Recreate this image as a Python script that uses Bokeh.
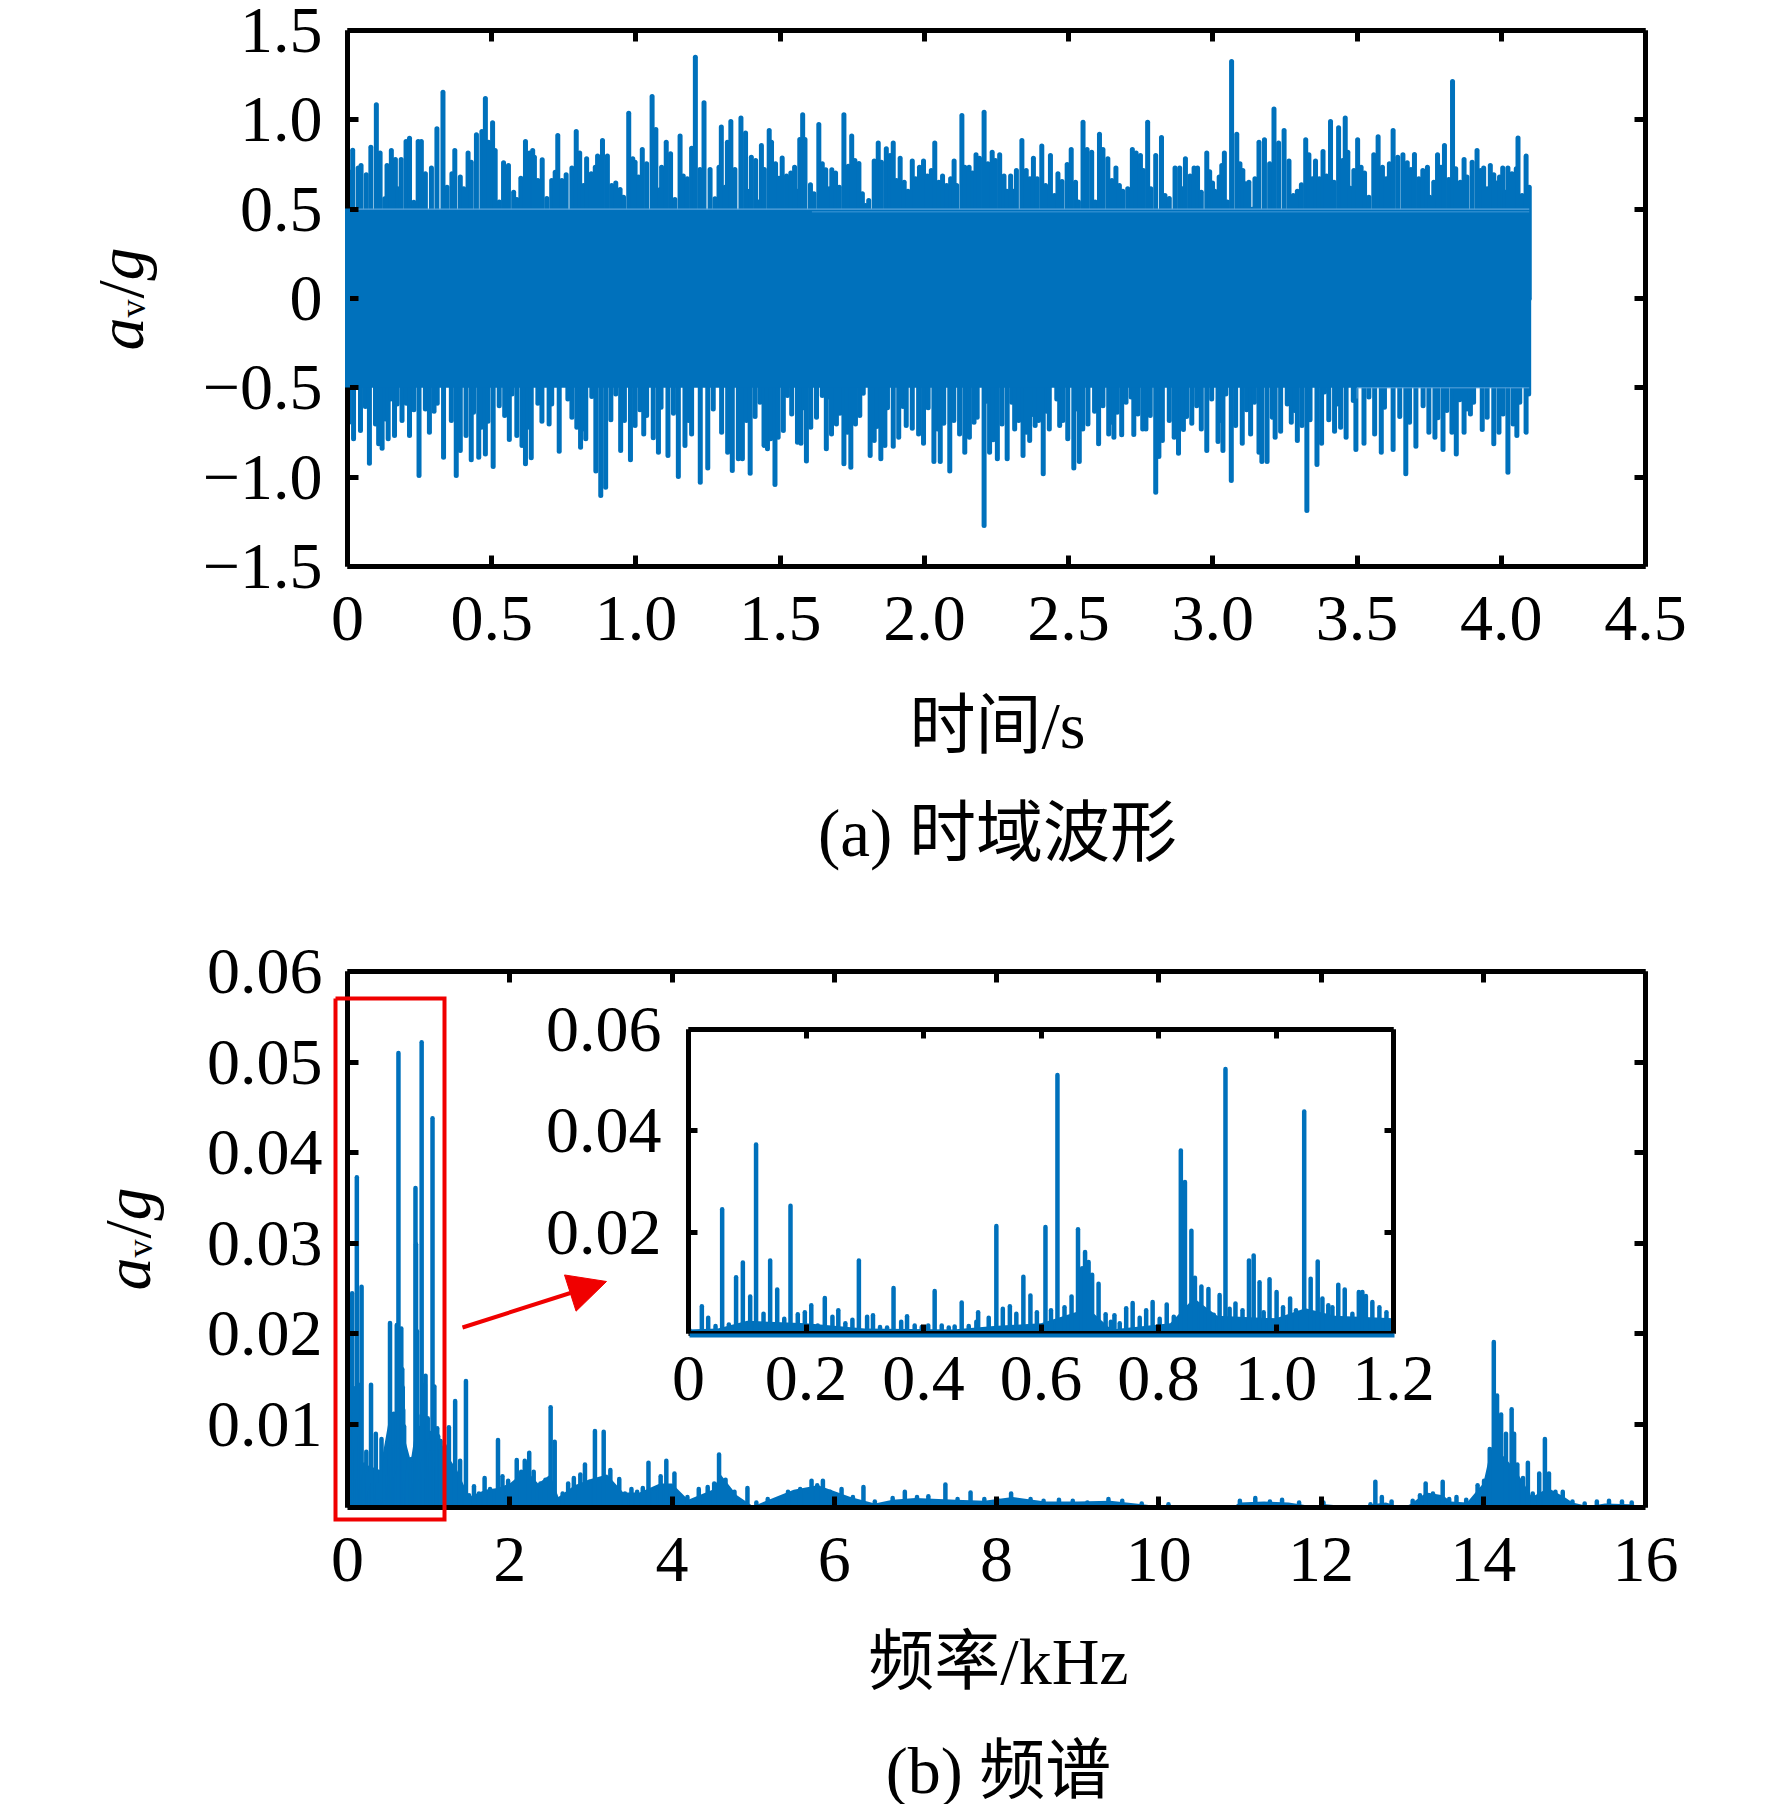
import numpy as np
from bokeh.embed import file_html
from bokeh.resources import INLINE
from bokeh.plotting import figure
from bokeh.layouts import column, row
from bokeh.models import (Range1d, LinearAxis, FixedTicker, Label, Arrow, NormalHead, CustomLabelingPolicy)

BLUE = "#0071BC"
RED = "#F00000"
FONT = "Liberation Serif"
CJK = "Liberation Serif, Noto Sans CJK SC"

# ---- (a) time waveform: peaks above and below the solid band
t_up = [.005,.018,.037,.047,.065,.081,.100,.113,.129,.137,.152,.166,.174,.186,.203,.215,.230,.245,.256,.270,.291,.310,.331,.345,.362,.372,.391,.403,.418,.429,.447,.466,.478,.489,.503,.512,.526,.541,.558,.576,.587,.601,.617,.631,.642,.648,.660,.675,.691,.708,.720,.729,.743,.758,.778,.793,.805,.818,.829,.845,.859,.867,.884,.901,.916,.930,.945,.957,.975,.989,.997,1.009,1.022,1.037,1.056,1.069,1.084,1.089,1.105,1.120,1.135,1.153,1.164,1.178,1.193,1.206,1.222,1.236,1.257,1.274,1.288,1.296,1.309,1.317,1.329,1.343,1.364,
1.38,1.387,1.40,1.415,1.424,1.435,1.445,1.462,1.47,1.484,1.496,1.507,1.522,1.537,1.55,1.559,1.568,1.578,1.586,1.605,1.617,1.634,1.646,1.658,1.67,1.679,1.692,1.705,1.721,1.736,1.748,1.759,1.773,1.785,1.796,1.807,1.826,1.84,1.851,1.868,1.881,1.892,1.903,1.916,1.93,1.943,1.958,1.969,1.983,1.997,2.01,2.024,2.036,2.05,2.063,2.077,2.091,2.103,2.112,2.13,2.14,2.155,2.167,2.179,2.191,2.207,2.22,2.235,2.246,2.261,2.276,2.286,2.299,2.308,2.319,2.338,2.353,2.366,2.378,2.391,2.407,2.42,2.437,2.451,2.463,2.477,2.495,2.509,2.524,2.534,2.55,2.564,2.58,2.592,2.607,2.619,2.636,2.65,2.664,2.676,2.688,2.705,2.721,2.734,2.749,2.759,
2.774,2.785,2.802,2.822,2.834,2.849,2.869,2.885,2.895,2.905,2.921,2.935,2.947,2.96,2.979,2.989,2.999,3.007,3.022,3.031,3.04,3.05,3.065,3.083,3.094,3.104,3.114,3.125,3.137,3.146,3.16,3.179,3.197,3.212,3.228,3.247,3.264,3.279,3.293,3.307,3.322,3.333,3.345,3.356,3.369,3.382,3.394,3.408,3.42,3.436,3.45,3.459,3.468,3.477,3.489,3.502,3.514,3.526,3.541,3.558,3.573,3.588,3.601,3.612,3.625,3.641,3.659,3.674,3.687,3.699,3.714,3.728,3.744,3.752,3.766,3.779,3.791,3.803,3.818,3.831,3.842,3.858,3.871,3.881,3.899,3.916,3.928,3.939,3.951,3.962,3.974,3.985,3.994,4.005,4.014,4.023,4.037,4.052,4.058,4.072,4.086,4.097]
a_up = [.71,.83,.73,.744,.692,.847,1.084,.815,.558,.744,.828,.778,.614,.778,.879,.897,.539,.879,.879,.698,.73,.95,1.155,.623,.698,.828,.68,.614,.815,.763,.916,.935,1.12,.875,.983,.828,.54,.76,.744,.595,.554,.673,.879,.815,.828,.79,.66,.776,.56,.66,.707,.912,.66,.692,.73,.935,.815,.632,.782,.698,.735,.797,.884,.797,.632,.647,.61,.567,1.037,.782,.763,.68,.834,.754,1.13,.946,.61,.735,.875,.81,.554,.91,.685,.67,.841,1.35,.722,1.095,.722,.558,.735,.96,.623,.875,.99,.722,1.01,
.927,.60,.79,.772,.54,.856,.722,.94,.875,.754,.673,.787,.685,.703,.735,.60,.89,1.028,.89,.636,.586,.974,.754,.72,.614,.72,.703,.623,1.028,.74,.91,.772,.756,.586,.52,.548,.769,.871,.763,.838,.80,.871,.66,.785,.651,.60,.769,.67,.735,.769,.685,.716,.871,.651,.685,.632,.67,.769,.632,1.024,.735,.735,.703,.804,.785,1.043,.754,.819,.772,.804,.685,.60,.685,.60,.716,.884,.716,.67,.785,.67,.853,.632,.80,.576,.698,.655,.75,.834,.651,.54,.987,.834,.819,.54,.92,.834,.782,.66,.731,.632,.60,.614,.834,.815,.80,.716,
.987,.614,.80,.901,.576,.56,.73,.73,.614,.782,.685,.73,.73,.595,.815,.71,.647,.60,.68,.744,.815,.54,1.326,.92,.754,.716,.642,.651,.50,.67,.875,.888,.754,1.06,.871,.94,.769,.576,.60,.636,.888,.804,.67,.769,.67,.823,.685,.99,.651,.955,.772,1.01,.819,.617,.716,.888,.735,.703,.567,.804,.906,.735,.67,.754,.94,.79,.804,.76,.722,.806,.67,.716,.735,.567,.651,.804,.735,.856,.666,1.215,.726,.651,.778,.68,.763,.828,.716,.73,.614,.744,.692,.647,.68,.73,.595,.73,.698,.726,.899,.576,.797,.623]
t_dn = [.005,.021,.045,.062,.076,.097,.108,.120,.131,.141,.150,.163,.172,.189,.204,.215,.230,.248,.270,.284,.300,.311,.333,.360,.377,.391,.411,.429,.437,.455,.464,.478,.487,.505,.526,.545,.561,.570,.587,.605,.617,.625,.637,.660,.674,.699,.708,.734,.764,.778,.795,.808,.816,.826,.847,.861,.878,.895,.913,.930,.947,.960,.981,.997,1.014,1.027,1.037,1.060,1.078,1.087,1.111,1.130,1.147,1.170,1.182,1.193,1.223,1.249,1.268,1.297,1.318,1.334,1.355,1.369,
1.383,1.396,1.413,1.43,1.444,1.456,1.467,1.482,1.493,1.511,1.525,1.54,1.56,1.572,1.581,1.591,1.606,1.626,1.646,1.66,1.67,1.678,1.695,1.707,1.721,1.733,1.745,1.761,1.776,1.788,1.812,1.826,1.835,1.849,1.863,1.872,1.892,1.911,1.926,1.937,1.958,1.98,1.997,2.013,2.033,2.045,2.055,2.067,2.088,2.102,2.122,2.14,2.156,2.172,2.183,2.207,2.215,2.226,2.238,2.253,2.269,2.287,2.303,2.313,2.327,2.342,2.353,2.365,2.376,2.384,2.396,2.412,2.424,2.433,2.459,2.469,2.48,2.497,2.518,2.529,2.537,2.549,2.567,2.59,2.604,2.619,2.639,2.65,2.657,2.668,2.684,2.699,2.717,2.726,2.74,2.757,
2.768,2.783,2.802,2.813,2.825,2.849,2.866,2.881,2.889,2.898,2.909,2.927,2.944,2.96,2.979,2.996,3.018,3.025,3.035,3.045,3.064,3.079,3.102,3.117,3.131,3.144,3.16,3.17,3.188,3.206,3.216,3.235,3.258,3.272,3.284,3.293,3.309,3.326,3.337,3.361,3.377,3.387,3.402,3.422,3.431,3.443,3.462,3.487,3.496,3.524,3.541,3.561,3.584,3.595,3.625,3.648,3.669,3.682,3.704,3.729,3.749,3.77,3.78,3.798,3.811,3.829,3.844,3.856,3.871,3.881,3.893,3.904,3.934,3.951,3.974,3.992,4.006,4.023,4.041,4.054,4.064,4.086,4.095]
a_dn = [-.692,-.785,-.739,-.605,-.922,-.702,-.813,-.838,-.674,-.785,-.562,-.767,-.59,-.683,-.586,-.767,-.623,-.991,-.618,-.748,-.631,-.586,-.888,-.683,-.991,-.851,-.767,-.903,-.636,-.888,-.72,-.87,-.687,-.94,-.6,-.655,-.789,-.534,-.767,-.823,-.925,-.72,-.892,-.586,-.687,-.702,-.59,-.855,-.562,-.664,-.72,-.832,-.73,-.785,-.549,-.966,-1.103,-1.056,-.679,-.534,-.851,-.683,-.903,-.711,-.623,-.758,-.655,-.78,-.86,-.608,-.879,-.642,-.996,-.823,-.683,-.758,-1.028,-.948,-.618,-.748,-.86,-.963,-.897,-.897,
-.683,-.978,-.66,-.58,-.823,-.841,-.785,-1.041,-.776,-.739,-.543,-.646,-.804,-.81,-.612,-.91,-.72,-.664,-.543,-.841,-.552,-.758,-.702,-.642,-.925,-.748,-.944,-.702,-.655,-.53,-.879,-.795,-.716,-.897,-.823,-.612,-.827,-.776,-.605,-.711,-.726,-.758,-.81,-.612,-.912,-.73,-.912,-.698,-.966,-.683,-.758,-.86,-.776,-.692,-.664,-1.27,-.575,-.86,-.791,-.897,-.702,-.897,-.58,-.73,-.683,-.879,-.748,-.795,-.649,-.711,-.683,-.981,-.631,-.73,-.562,-.711,-.683,-.785,-.948,-.618,-.912,-.73,-.702,-.631,-.813,-.6,-.758,-.692,-.776,-.636,-.763,-.58,-.552,-.761,-.646,-.73,
-.73,-.655,-1.084,-.884,-.795,-.683,-.776,-.866,-.683,-.733,-.66,-.698,-.6,-.73,-.851,-.562,-.8,-.683,-.851,-.534,-1.019,-.711,-.81,-.623,-.758,-.58,-.86,-.912,-.912,-.664,-.776,-.743,-.59,-.692,-.627,-.795,-.711,-1.187,-.679,-.929,-.81,-.524,-.679,-.743,-.59,-.72,-.776,-.571,-.845,-.81,-.552,-.758,-.86,-.608,-.845,-.66,-.981,-.692,-.827,-.6,-.748,-.776,-.668,-.845,-.627,-.748,-.87,-.567,-.748,-.618,-.646,-.58,-.733,-.664,-.813,-.748,-.646,-.972,-.702,-.767,-.58,-.748,-.534]
band_t = [0.0, 4.097]
band_top = [0.5, 0.5]
band_bottom = [-0.5, -0.5]
seam_t = [1.61, 4.097]
seam_a = [0.485, 0.485]
seam_low_t = [3.5, 3.5, 4.097]
seam_low_a = [-0.56, -0.5, -0.5]

t_ticks = [0, .5, 1, 1.5, 2, 2.5, 3, 3.5, 4, 4.5]
t_labels = ["0", "0.5", "1.0", "1.5", "2.0", "2.5", "3.0", "3.5", "4.0", "4.5"]
a_ticks = [-1.5, -1, -.5, 0, .5, 1, 1.5]
a_labels = ["\u22121.5", "\u22121.0", "\u22120.5", "0", "0.5", "1.0", "1.5"]

# ---- (b) spectrum, amplitudes in units of 0.01 g
low_f = [.0017,.0227,.0335,.046,.0573,.0687,.081,.0925,.105,.115,.1277,.139,.151,.163,.1736,.186,.198,.209,.220,.232,.245,.255,.267,.279,.290,.304,.314,.326,.338,.349,.362,.372,.385,.397,.408,.419,.431,.443,.453,.465,.477,.490,.493,.511,.524,.535,.547,.558,.570,.582,.593,
.6076,.617,.628,.640,.652,.663,.670,.675,.681,.687,.698,.710,.719,.725,.734,.745,.756,.768,.779,.790,.802,.814,.826,.838,.845,.856,.862,.873,.885,.894,.904,.914,.921,.931,.943,.954,.962,.972,.979,.989,1.001,1.012,1.024,1.034,1.048,1.059,1.071,1.079,1.089,1.096,1.106,1.117,1.130,1.141,1.147,1.153,1.164,1.176,1.188,1.2]
low_v = [.065,.54,.31,.15,2.45,.18,1.11,1.40,.73,3.73,.39,1.44,.87,.29,2.52,.38,.42,.56,.16,.70,.33,.46,.20,.27,1.44,.33,.36,.13,.12,.90,.23,.34,.16,.13,.16,.84,.16,.12,.14,.61,.15,.23,.42,.31,2.12,.49,.54,.39,1.12,.75,.42,
2.10,.46,5.10,.52,.73,2.06,1.29,1.61,1.41,1.16,.98,.38,.23,.36,.20,.50,.60,.31,.46,.62,.29,.57,.33,3.61,2.99,2.03,1.10,.93,.88,.37,.76,5.22,.49,.59,.46,1.44,1.54,1.01,.42,1.07,.82,.52,.69,.46,4.38,1.08,1.42,.69,.56,.52,.96,.87,.39,.82,.82,.74,.62,.52,.42,.76]
low_floor_f = [0,.05,.1,.2,.3,.45,.52,.6,.68,.72,.82,.86,.9,1.0,1.05,1.1,1.2]
low_floor_v = [.08,.10,.25,.20,.10,.08,.15,.20,.50,.08,.20,.70,.35,.30,.50,.35,.30]
high_f = [1.25,1.327,1.388,1.46,1.498,1.559,1.62,1.69,1.757,1.855,1.91,1.98,2.086,2.141,2.185,2.24,2.295,2.378,2.44,2.504,2.554,2.652,2.72,2.79,2.87,2.927,2.98,3.05,3.10,3.158,3.24,3.35,3.42,3.50,3.57,3.64,3.71,3.78,3.86,3.93,4.03,4.09,4.19,4.33,4.44,4.52,4.58,4.66,4.77,4.93,5.04,5.18,5.29,5.43,5.58,5.65,5.72,5.79,5.86,5.95,6.09,6.23,6.36,6.50,6.72,6.87,7.02,7.16,7.37,7.52,7.68,7.85,
8.03,8.18,8.42,8.58,8.77,8.94,9.12,9.38,9.55,9.79,10.12,11.0,11.19,11.37,11.52,11.73,12.03,12.61,12.67,12.75,12.87,13.13,13.22,13.29,13.38,13.50,13.58,13.67,13.79,13.93,14.01,14.08,14.13,14.17,14.22,14.28,14.35,14.38,14.42,14.49,14.55,14.61,14.69,14.76,14.81,14.89,14.98,15.10,15.25,15.40,15.55,15.71,15.83]
high_v = [.97,1.26,.60,1.48,.22,.32,.24,.41,.29,.83,.43,.38,.61,.48,.60,.69,.48,.35,.39,1.19,.81,.24,.35,.41,.45,.56,.37,.93,.37,.92,.50,.40,.24,.29,.26,.30,.58,.26,.43,.60,.46,.22,.20,.29,.31,.35,.67,.39,.26,.30,.14,.18,.16,.26,.29,.24,.38,.33,.38,.26,.29,.20,.31,.15,.19,.26,.20,.21,.34,.18,.25,.18,
.16,.24,.18,.16,.17,.16,.14,.18,.16,.13,.12,.16,.19,.15,.17,.14,.14,.12,.37,.20,.15,.16,.22,.35,.24,.37,.18,.20,.17,.33,.38,.73,1.91,1.32,1.11,.90,1.17,.90,.56,.41,.58,.24,.46,.84,.46,.26,.26,.15,.13,.15,.16,.15,.14]
floor_f = [0,.1,.4,.5,.72,.78,.85,1.1,1.2,1.35,1.5,1.7,1.85,2.0,2.2,2.35,2.5,2.6,2.8,3.0,3.2,3.4,3.6,3.85,4.0,4.2,4.5,4.6,4.8,5.0,5.5,5.8,6.2,6.5,6.72,7,7.5,7.85,8.2,8.6,9,9.4,9.8,10,10.1,10.5,10.9,11,11.3,11.6,11.9,12.05,12.5,12.63,12.8,13.0,13.1,13.3,13.5,13.6,13.8,13.95,14,14.1,14.25,14.4,14.6,14.8,15,15.1,15.3,15.5,15.8,16]
floor_v = [.5,.6,.5,1.0,.8,.6,1.0,.9,.7,.5,.2,.28,.3,.35,.5,.35,.45,.2,.33,.4,.45,.25,.25,.35,.35,.17,.28,.45,.22,.1,.28,.33,.2,.13,.17,.19,.17,.16,.2,.15,.15,.16,.12,.1,.11,.085,.085,.14,.15,.14,.1,.12,.085,.12,.14,.085,.12,.25,.22,.15,.14,.3,.35,.75,.65,.5,.2,.3,.2,.14,.1,.13,.12,.1]
f_ticks = list(range(0, 17, 2))
v_ticks = [.01, .02, .03, .04, .05, .06]
v_labels = ["0.01", "0.02", "0.03", "0.04", "0.05", "0.06"]
inset_x_ticks = [0, .2, .4, .6, .8, 1.0, 1.2]
inset_x_labels = ["0", "0.2", "0.4", "0.6", "0.8", "1.0", "1.2"]
inset_y_ticks = [.02, .04, .06]
inset_y_labels = ["0.02", "0.04", "0.06"]


def style(p, xt, yt, xl=None, yl=None, size="66px", tick=11, sx=30, sy=25):
    p.grid.visible = False
    p.outline_line_color = None
    xax = p.xaxis[0]; yax = p.yaxis[0]
    top = LinearAxis(); right = LinearAxis()
    p.add_layout(top, "above"); p.add_layout(right, "right")
    for ax, ticks in ((xax, xt), (yax, yt), (top, xt), (right, yt)):
        ax.ticker = FixedTicker(ticks=ticks)
        ax.minor_tick_line_color = None
        ax.axis_line_width = 5
        ax.axis_line_color = "black"
        ax.major_tick_line_width = 5
        ax.major_tick_line_color = "black"
        ax.major_tick_in = tick
        ax.major_tick_out = 0
    for ax in (top, right):
        ax.major_label_text_font_size = "1px"
        ax.major_label_standoff = 0
        ax.major_label_policy = CustomLabelingPolicy(code="return []")
    for ax, lab, st in ((xax, xl, sx), (yax, yl, sy)):
        ax.major_label_text_font = FONT
        ax.major_label_text_font_size = size
        ax.major_label_text_color = "black"
        ax.major_label_standoff = st
        if lab:
            ax.major_label_overrides = lab
    xax.major_label_orientation = "horizontal"
    yax.major_label_orientation = "horizontal"


# ---------- top figure
f1 = figure(width=1764, height=900, output_backend="svg", toolbar_location=None,
            x_range=Range1d(0, 4.5), y_range=Range1d(-1.5, 1.5),
            min_border_left=347, min_border_right=119, min_border_top=30, min_border_bottom=334,
            background_fill_color="white")
style(f1, t_ticks, a_ticks, dict(zip(t_ticks, t_labels)), dict(zip(a_ticks, a_labels)))
f1.segment(t_up, 0, t_up, a_up, line_color=BLUE, line_width=5, line_cap="round")
f1.segment(t_dn, 0, t_dn, a_dn, line_color=BLUE, line_width=5, line_cap="round")
f1.varea(band_t, band_bottom, band_top, fill_color=BLUE)
f1.line(band_t, band_top, line_color="#5BA5DC", line_width=1.2)
f1.line(seam_t, seam_a, line_color="#3F97D6", line_width=1)
f1.line(seam_low_t, seam_low_a, line_color="#5BA5DC", line_width=1)

# ---------- bottom figure
f2 = figure(width=1764, height=896, output_backend="svg", toolbar_location=None,
            x_range=Range1d(0, 16), y_range=Range1d(.00085, .06),
            min_border_left=347, min_border_right=119, min_border_top=71, min_border_bottom=289)
style(f2, f_ticks, v_ticks, None, dict(zip(v_ticks, v_labels)))
lowf, lowv = np.array(low_f), np.array(low_v) * .01
hif, hiv = np.array(high_f), np.array(high_v) * .01
fl_f, fl_v = np.array(floor_f), np.array(floor_v) * .01
f2.varea(fl_f, 0, fl_v, fill_color=BLUE)
f2.segment(lowf, 0, lowf, lowv, line_color=BLUE, line_width=4.5, line_cap="round")
f2.segment(hif, 0, hif, hiv, line_color=BLUE, line_width=4.5, line_cap="round")

# ---------- inset, laid over the bottom figure
f3 = figure(width=970, height=410, output_backend="svg", toolbar_location=None,
            x_range=Range1d(0, 1.2), y_range=Range1d(0, .06),
            min_border_left=197, min_border_right=68, min_border_top=37, min_border_bottom=67,
            background_fill_alpha=0, border_fill_alpha=0)
style(f3, inset_x_ticks, inset_y_ticks, dict(zip(inset_x_ticks, inset_x_labels)),
      dict(zip(inset_y_ticks, inset_y_labels)), tick=9, sx=23, sy=27)
lf, lv = np.array(low_floor_f), np.array(low_floor_v) * .01
f3.varea(lf, 0, lv, fill_color=BLUE)
f3.segment(lowf, 0, lowf, lowv, line_color=BLUE, line_width=4.5, line_cap="round")

# ---------- transparent sheet for everything that lies outside the frames (page pixels)
f4 = figure(width=1764, height=1804, output_backend="svg", toolbar_location=None,
            x_range=Range1d(0, 1764), y_range=Range1d(1804, 0), x_axis_location=None, y_axis_location=None,
            min_border=0, background_fill_alpha=0, border_fill_alpha=0)
f4.grid.visible = False
f4.outline_line_color = None


def ylab(x, y):
    parts = [("a", "66px", "italic", 0, 0), ("v", "36px", "normal", 12, -33),
             ("/", "66px", "normal", 0, -52), ("g", "66px", "italic", 0, -70)]
    for txt, sz, st, dx, dy in parts:
        f4.add_layout(Label(x=x + dx, y=y + dy, text=txt, text_font=FONT, text_font_size=sz, text_font_style=st,
                            text_color="black", angle=90, angle_units="deg",
                            text_baseline="alphabetic", text_align="left"))


def txt(x, y, s, size):
    f4.add_layout(Label(x=x, y=y, text=s, text_font=CJK, text_font_size=size, text_color="black",
                        text_align="center", text_baseline="middle"))


ylab(120, 350)
ylab(127, 1290)
txt(997, 725, "时间/s", "66px")
txt(997, 832, "(a) 时域波形", "67px")
txt(998, 1661, "频率/kHz", "66px")
txt(998, 1770, "(b) 频谱", "66px")
f4.line([335, 444, 444, 335, 335], [998, 998, 1519, 1519, 998], line_color=RED, line_width=4, line_join="miter")
f4.add_layout(Arrow(x_start=462, y_start=1327, x_end=606, y_end=1281, line_color=RED, line_width=4,
                    end=NormalHead(size=38, fill_color=RED, line_color=RED)))
f4.line([347, 347], [208, 387], line_color=BLUE, line_width=5)
f4.line([689, 1394], [1335, 1335], line_color=BLUE, line_width=4)

page = column(f1, f2, row(f3, margin=(-804, 0, 0, 491)), row(f4, margin=(-1402, 0, 0, 0)), margin=0)
open("out.html", "w").write(file_html(page, INLINE))
